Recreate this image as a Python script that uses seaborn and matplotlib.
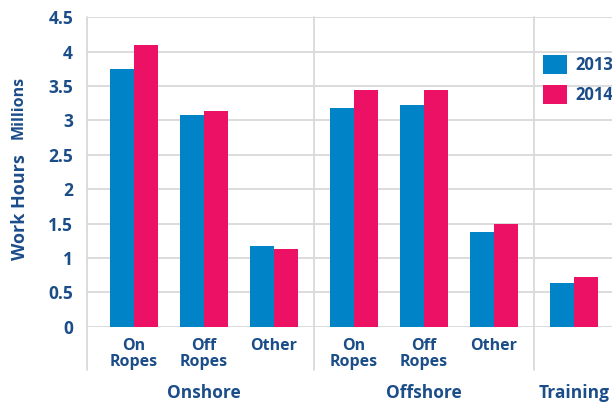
import numpy as np
import pandas as pd
import matplotlib
matplotlib.use("Agg")
import matplotlib.pyplot as plt
import matplotlib.transforms as mtransforms
from matplotlib.patches import Patch
import seaborn as sns

# ---- data ----
groups = ["Onshore", "Offshore", "Training"]
group_categories = [["On\nRopes", "Off\nRopes", "Other"],
                    ["On\nRopes", "Off\nRopes", "Other"],
                    [""]]
years = ["2013", "2014"]
values_2013 = [3.75, 3.08, 1.17, 3.18, 3.22, 1.38, 0.64]
values_2014 = [4.10, 3.13, 1.13, 3.44, 3.44, 1.50, 0.73]

# ---- style ----
sns.set_style("white")
FONT = ["Open Sans", "DejaVu Sans"]
plt.rcParams["font.family"] = FONT
TXT = "#1B4D89"
GRID = "#d9d9d9"
BLUE = "#0083C7"
PINK = "#EC1164"

# positions: step 1 within a group, slightly larger step between groups
group_gap = 80 / 70
positions, labels, group_centers, separators = [], [], [], []
cur = 0.0
for gi, cats in enumerate(group_categories):
    if gi > 0:
        separators.append(cur - 1 + group_gap / 2)
        cur += group_gap - 1
    start = cur
    for c in cats:
        positions.append(cur)
        labels.append(c)
        cur += 1
    group_centers.append((start + cur - 1) / 2)

df = pd.DataFrame({
    "pos": positions * 2,
    "value": values_2013 + values_2014,
    "year": [years[0]] * len(values_2013) + [years[1]] * len(values_2014),
})

fig = plt.figure(figsize=(6.12, 4.05), dpi=100)
W, H = 612, 405
ax_l, ax_r, ax_t, ax_b = 87, 612, 17.3, 326.7
ax = fig.add_axes([ax_l / W, 1 - ax_b / H, (ax_r - ax_l) / W, (ax_b - ax_t) / H])

sns.barplot(data=df, x="pos", y="value", hue="year", native_scale=True,
            palette=[BLUE, PINK], width=0.686, gap=0, dodge=True,
            saturation=1, ax=ax, legend=False, zorder=3, linewidth=0,
            edgecolor="none")

xl = (ax_l - 134) / 70
xr = (ax_r - 134) / 70
ax.set_xlim(xl, xr)
ax.set_ylim(0, 4.5)

yt = np.arange(0, 4.51, 0.5)
ax.set_yticks(yt)
ax.set_yticklabels([f"{v:g}" for v in yt])
ax.yaxis.grid(True, color=GRID, lw=1.3, zorder=0)
ax.set_axisbelow(True)
for s in ax.spines.values():
    s.set_visible(False)
ax.tick_params(axis="y", length=0, pad=10, labelsize=12.5, labelcolor=TXT)
for t in ax.get_yticklabels():
    t.set_fontweight("bold")

ax.set_xticks(positions)
ax.set_xticklabels(labels, linespacing=1.0)
ax.tick_params(axis="x", length=0, pad=8, labelsize=11.5, labelcolor=TXT)
for t in ax.get_xticklabels():
    t.set_fontweight("bold")
ax.set_xlabel("")
ax.set_ylabel("")

ext = -(370 - ax_b) / (ax_b - ax_t)
for xv in [xl] + separators:
    ax.axvline(xv, ymin=ext, ymax=1, color=GRID, lw=1.3, clip_on=False, zorder=1)

trans = mtransforms.blended_transform_factory(ax.transData, ax.transAxes)
gy = -(393 - ax_b) / (ax_b - ax_t)
for g, c in zip(groups, group_centers):
    ax.text(c, gy, g, transform=trans, ha="center", va="center",
            fontsize=12.5, fontweight="bold", color=TXT)

# y label
fig.text(20 / W, 1 - 260 / H, "Work Hours", rotation=90, ha="center", va="bottom",
         fontsize=13, fontweight="bold", color=TXT)
fig.text(19 / W, 1 - 76 / H, "Millions", rotation=90, ha="center", va="top",
         fontsize=11.5, fontweight="bold", color=TXT)

handles = [Patch(facecolor=BLUE, edgecolor="none"), Patch(facecolor=PINK, edgecolor="none")]
leg = ax.legend(handles, years, loc="upper left",
                bbox_to_anchor=((543 - ax_l) / (ax_r - ax_l), (ax_b - 55) / (ax_b - ax_t)),
                frameon=False, borderpad=0, borderaxespad=0,
                handlelength=1.45, handleheight=1.4, handletextpad=0.5,
                labelspacing=0.65, prop={"size": 12, "weight": "bold"})
for t in leg.get_texts():
    t.set_color(TXT)

fig.savefig("out.png", dpi=100)
